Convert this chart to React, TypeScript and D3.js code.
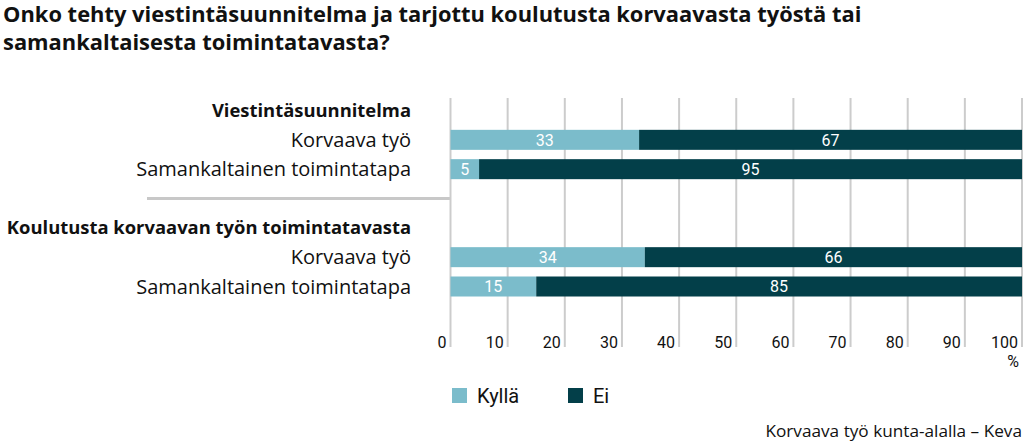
import React from "react";
import * as d3 from "d3";

// data
const titleLines = [
  "Onko tehty viestintäsuunnitelma ja tarjottu koulutusta korvaavasta työstä tai",
  "samankaltaisesta toimintatavasta?",
];
const groups = ["Viestintäsuunnitelma", "Koulutusta korvaavan työn toimintatavasta"];
const categories = ["Korvaava työ", "Samankaltainen toimintatapa"];
const seriesNames = ["Kyllä", "Ei"];
const kylla = [33, 5, 34, 15];
const ei = [67, 95, 66, 85];
const ticks = [0, 10, 20, 30, 40, 50, 60, 70, 80, 90, 100];
const source = "Korvaava työ kunta-alalla – Keva";

const colors = ["#7bbccb", "#033f49"];
const font = "Roboto, 'DejaVu Sans', sans-serif";
const wideFont = "'Open Sans', Roboto, sans-serif";

export default function App() {
  const width = 1024;
  const height = 441;

  const x = d3.scaleLinear().domain([0, 100]).range([450.5, 1022]);

  // 7 row slots: header, 2 bars, separator, header, 2 bars
  const slots = ["h0", "b0", "b1", "sep", "h1", "b2", "b3"];
  const y = d3.scalePoint<string>().domain(slots).range([110.5, 286.5]);
  const barH = 20;

  const rows = kylla.map((k, i) => ({
    key: "b" + i,
    label: categories[i % 2],
    values: [k, ei[i]],
  }));

  const stack = rows.map((r) => {
    let x0 = 0;
    return r.values.map((v, j) => {
      const seg = { name: seriesNames[j], x0, x1: x0 + v, v, color: colors[j] };
      x0 += v;
      return seg;
    });
  });

  const gridTop = 98;
  const gridBottom = 347;

  return (
    <svg
      width={width}
      height={height}
      style={{ position: "absolute", left: 0, top: 0, fontFamily: font }}
    >
      <rect width={width} height={height} fill="#fff" />

      {titleLines.map((t, i) => (
        <text
          key={i}
          x={3}
          y={22 + i * 28}
          fontSize={21.9}
          fontWeight={700}
          fontFamily={wideFont}
          fill="#111"
        >
          {t}
        </text>
      ))}

      {/* group headers */}
      {groups.map((g, i) => (
        <text
          key={g}
          x={411}
          y={y("h" + i)}
          dy="0.35em"
          textAnchor="end"
          fontSize={18.4}
          fontWeight={700}
          fontFamily={wideFont}
          fill="#111"
        >
          {g}
        </text>
      ))}

      {/* separator */}
      <line x1={147} x2={x(0)} y1={y("sep")} y2={y("sep")} stroke="#c8c8c8" strokeWidth={3} />

      {/* category labels */}
      {rows.map((r) => (
        <text
          key={r.key}
          x={411}
          y={y(r.key)}
          dy="0.35em"
          textAnchor="end"
          fontSize={20}
          fontFamily={wideFont}
          fill="#111"
        >
          {r.label}
        </text>
      ))}

      {/* tick labels */}
      {ticks.map((t) => (
        <text key={t} x={x(t) - 4} y={348} textAnchor="end" fontSize={16} fill="#111">
          {t}
        </text>
      ))}
      <text x={1019} y={367} textAnchor="end" fontSize={16} fill="#111">
        %
      </text>

      {/* gridlines */}
      {ticks.map((t) => (
        <line
          key={t}
          x1={x(t)}
          x2={x(t)}
          y1={gridTop}
          y2={gridBottom}
          stroke="#cccccc"
          strokeWidth={2}
        />
      ))}

      {/* bars */}
      {rows.map((r, i) =>
        stack[i].map((s) => (
          <g key={r.key + s.name}>
            <rect
              x={x(s.x0)}
              y={(y(r.key) as number) - barH / 2}
              width={x(s.x1) - x(s.x0)}
              height={barH}
              fill={s.color}
            />
            <text
              x={(x(s.x0) + x(s.x1)) / 2}
              y={y(r.key)}
              dy="0.36em"
              textAnchor="middle"
              fontSize={16}
              fill="#fff"
            >
              {s.v}
            </text>
          </g>
        ))
      )}

      {/* legend */}
      {seriesNames.map((n, i) => (
        <g key={n} transform={`translate(${452 + i * 116},388)`}>
          <rect width={15} height={15} fill={colors[i]} />
          <text x={25} y={15} fontSize={20} fill="#111">
            {n}
          </text>
        </g>
      ))}

      <text
        x={1022}
        y={437}
        textAnchor="end"
        fontSize={17.2}
        fontFamily={wideFont}
        fill="#111"
      >
        {source}
      </text>
    </svg>
  );
}
